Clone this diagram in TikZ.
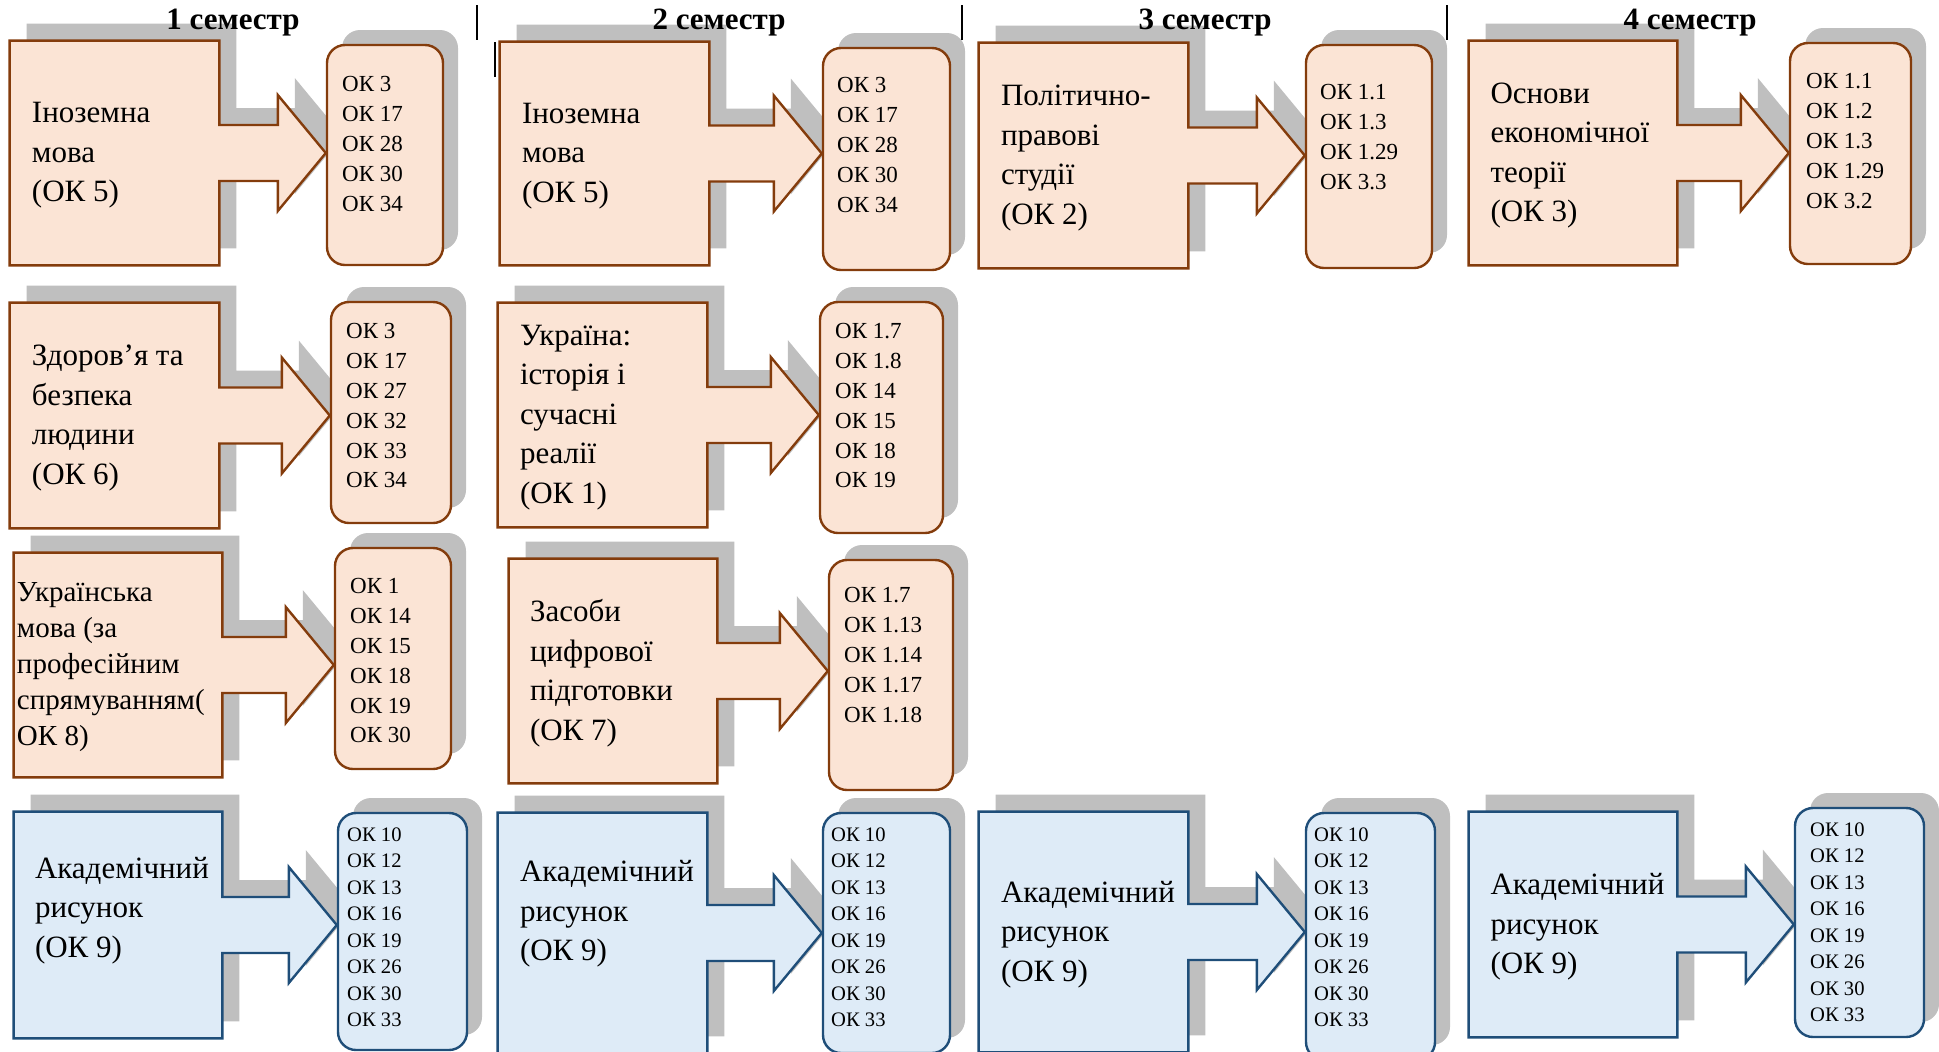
\documentclass[tikz,border=0pt]{standalone}
\usepackage{fontspec}
\setmainfont{Liberation Serif}
\usetikzlibrary{positioning, fit, calc, shadows, backgrounds}

\definecolor{peach}{RGB}{251,228,213}
\definecolor{rust}{RGB}{132,60,12}
\definecolor{sky}{RGB}{222,235,247}
\definecolor{navy}{RGB}{31,78,121}
\definecolor{shade}{RGB}{191,191,191}

% box with arrow towards the list of competences
\newcommand{\callout}[3]{%
  \begin{pgfonlayer}{background}
  \filldraw[#1] (#2.north west) -- (#2.north east)
    -- ($(#2.east)+(0,14pt)$) -- ($(#2.east -| #3.west)+(-24pt,14pt)$)
    -- ($(#2.east -| #3.west)+(-24pt,29pt)$) -- (#2.east -| #3.west)
    -- ($(#2.east -| #3.west)+(-24pt,-29pt)$) -- ($(#2.east -| #3.west)+(-24pt,-14pt)$)
    -- ($(#2.east)+(0,-14pt)$) -- (#2.south east) -- (#2.south west) -- cycle;
  \end{pgfonlayer}}

\begin{document}
\begin{tikzpicture}[x=0.5pt, y=-0.5pt,
	every node/.style={inner sep=0pt},
	frame/.style={draw=none},
	callshadow/.style={drop shadow={shadow xshift=8.5pt, shadow yshift=8.5pt, fill=shade, opacity=1}},
	boxshadow/.style={drop shadow={shadow xshift=7.5pt, shadow yshift=7.5pt, fill=shade, opacity=1}},
	warm/.style={fill=peach, draw=rust, line width=1.2pt},
	cool/.style={fill=sky, draw=navy, line width=1.2pt},
	warmcall/.style={warm, callshadow},
	coolcall/.style={cool, callshadow},
	warmok/.style={warm, boxshadow, rounded corners=9pt},
	coolok/.style={cool, boxshadow, rounded corners=9pt},
	subj/.style={align=left, yshift=-1.2pt, font=\fontsize{15.5}{19.75}\selectfont},
	oklist/.style={align=left, font=\fontsize{11.5}{14.9}\selectfont},
	oksmall/.style={align=left, font=\fontsize{10.3}{13.25}\selectfont},
	term/.style={font=\fontsize{15.5}{18}\selectfont\bfseries},
	bar/.style={line width=0.8pt}]
	\useasboundingbox (0,0) rectangle (1939,1051);

	% 1 семестр
	\node[frame, fit={(10,41) (219,265)}] (foreign1) {};
	\node[warmok, fit={(327,45) (443,265)}] (foreign1ok) {};
	\callout{warmcall}{foreign1}{foreign1ok}
	\node[subj, right=11pt of foreign1.west] (foreign1t) {Іноземна\\мова\\(ОК 5)};
	\node[oklist, below right=16.25pt and 8pt of foreign1ok.north west] (foreign1l) {ОК 3\\ОК 17\\ОК 28\\ОК 30\\ОК 34};

	\node[frame, fit={(10,303) (219,528)}] (health) {};
	\node[warmok, fit={(331,302) (451,523)}] (healthok) {};
	\callout{warmcall}{health}{healthok}
	\node[subj, right=11pt of health.west] (healtht) {Здоров’я та\\безпека\\людини\\(ОК 6)};
	\node[oklist, below right=11.25pt and 8pt of healthok.north west] (healthl) {ОК 3\\ОК 17\\ОК 27\\ОК 32\\ОК 33\\ОК 34};

	\node[frame, fit={(14,553) (222,777)}] (ukrlang) {};
	\node[warmok, fit={(335,548) (451,769)}] (ukrlangok) {};
	\callout{warmcall}{ukrlang}{ukrlangok}
	\node[subj, font=\fontsize{14.5}{18}\selectfont, right=1.5pt of ukrlang.west] (ukrlangt) {Українська\\мова (за\\професійним\\спрямуванням(\\ОК 8)};
	\node[oklist, below right=15.75pt and 8pt of ukrlangok.north west] (ukrlangl) {ОК 1\\ОК 14\\ОК 15\\ОК 18\\ОК 19\\ОК 30};

	\node[frame, fit={(14,812) (222,1038)}] (art1) {};
	\node[coolok, fit={(338,813) (467,1050)}] (art1ok) {};
	\callout{coolcall}{art1}{art1ok}
	\node[subj, right=10.5pt of art1.west, yshift=8.5pt] (art1t) {Академічний\\рисунок\\(ОК 9)};
	\node[oksmall, below right=7.6pt and 5pt of art1ok.north west] (art1l) {ОК 10\\ОК 12\\ОК 13\\ОК 16\\ОК 19\\ОК 26\\ОК 30\\ОК 33};

	% 2 семестр
	\node[frame, fit={(500,42) (709,265)}] (foreign2) {};
	\node[warmok, fit={(823,48) (950,270)}] (foreign2ok) {};
	\callout{warmcall}{foreign2}{foreign2ok}
	\node[subj, right=11pt of foreign2.west] (foreign2t) {Іноземна\\мова\\(ОК 5)};
	\node[oklist, below right=15.25pt and 7.5pt of foreign2ok.north west] (foreign2l) {ОК 3\\ОК 17\\ОК 28\\ОК 30\\ОК 34};

	\node[frame, fit={(498,303) (707,527)}] (history) {};
	\node[warmok, fit={(820,302) (943,533)}] (historyok) {};
	\callout{warmcall}{history}{historyok}
	\node[subj, right=11pt of history.west] (historyt) {Україна:\\історія і\\сучасні\\реалії\\(ОК 1)};
	\node[oklist, below right=11.25pt and 8pt of historyok.north west] (historyl) {ОК 1.7\\ОК 1.8\\ОК 14\\ОК 15\\ОК 18\\ОК 19};

	\node[frame, fit={(509,559) (717,783)}] (digital) {};
	\node[warmok, fit={(829,560) (953,790)}] (digitalok) {};
	\callout{warmcall}{digital}{digitalok}
	\node[subj, right=10.5pt of digital.west] (digitalt) {Засоби\\цифрової\\підготовки\\(ОК 7)};
	\node[oklist, below right=14.25pt and 8pt of digitalok.north west] (digitall) {ОК 1.7\\ОК 1.13\\ОК 1.14\\ОК 1.17\\ОК 1.18};

	\node[frame, fit={(498,813) (707,1053)}] (art2) {};
	\node[coolok, fit={(823,813) (950,1053)}] (art2ok) {};
	\callout{coolcall}{art2}{art2ok}
	\node[subj, right=11pt of art2.west, yshift=10.75pt] (art2t) {Академічний\\рисунок\\(ОК 9)};
	\node[oksmall, below right=7.6pt and 4.5pt of art2ok.north west] (art2l) {ОК 10\\ОК 12\\ОК 13\\ОК 16\\ОК 19\\ОК 26\\ОК 30\\ОК 33};

	% 3 семестр
	\node[frame, fit={(979,43) (1188,268)}] (polit) {};
	\node[warmok, fit={(1306,45) (1432,268)}] (politok) {};
	\callout{warmcall}{polit}{politok}
	\node[subj, right=11pt of polit.west] (politt) {Політично-\\правові\\студії\\(ОК 2)};
	\node[oklist, below right=20.25pt and 7.5pt of politok.north west] (politl) {ОК 1.1\\ОК 1.3\\ОК 1.29\\ОК 3.3};

	\node[frame, fit={(979,812) (1188,1052)}] (art3) {};
	\node[coolok, fit={(1306,813) (1435,1060)}] (art3ok) {};
	\callout{coolcall}{art3}{art3ok}
	\node[subj, right=11pt of art3.west] (art3t) {Академічний\\рисунок\\(ОК 9)};
	\node[oksmall, below right=7.6pt and 4.5pt of art3ok.north west] (art3l) {ОК 10\\ОК 12\\ОК 13\\ОК 16\\ОК 19\\ОК 26\\ОК 30\\ОК 33};

	% 4 семестр
	\node[frame, fit={(1469,41) (1677,265)}] (econ) {};
	\node[warmok, fit={(1790,43) (1911,264)}] (econok) {};
	\callout{warmcall}{econ}{econok}
	\node[subj, right=10.75pt of econ.west] (econt) {Основи\\економічної\\теорії\\(ОК 3)};
	\node[oklist, below right=15.75pt and 8.5pt of econok.north west] (econl) {ОК 1.1\\ОК 1.2\\ОК 1.3\\ОК 1.29\\ОК 3.2};

	\node[frame, fit={(1469,812) (1677,1037)}] (art4) {};
	\node[coolok, fit={(1795,808) (1924,1037)}] (art4ok) {};
	\callout{coolcall}{art4}{art4ok}
	\node[subj, right=10.75pt of art4.west] (art4t) {Академічний\\рисунок\\(ОК 9)};
	\node[oksmall, below right=7.6pt and 8pt of art4ok.north west] (art4l) {ОК 10\\ОК 12\\ОК 13\\ОК 16\\ОК 19\\ОК 26\\ОК 30\\ОК 33};

	% semester headings and separators
	\node[term] (sem1) at (233,23) {1 семестр};
	\node[term] (sem2) at (719,23) {2 семестр};
	\node[term] (sem3) at (1205,23) {3 семестр};
	\node[term] (sem4) at (1690,23) {4 семестр};
	\draw[bar] (477,5) -- (477,40);
	\draw[bar] (962,5) -- (962,40);
	\draw[bar] (1447,5) -- (1447,40);
	\draw[bar] (495,42) -- (495,77);
\end{tikzpicture}
\end{document}
